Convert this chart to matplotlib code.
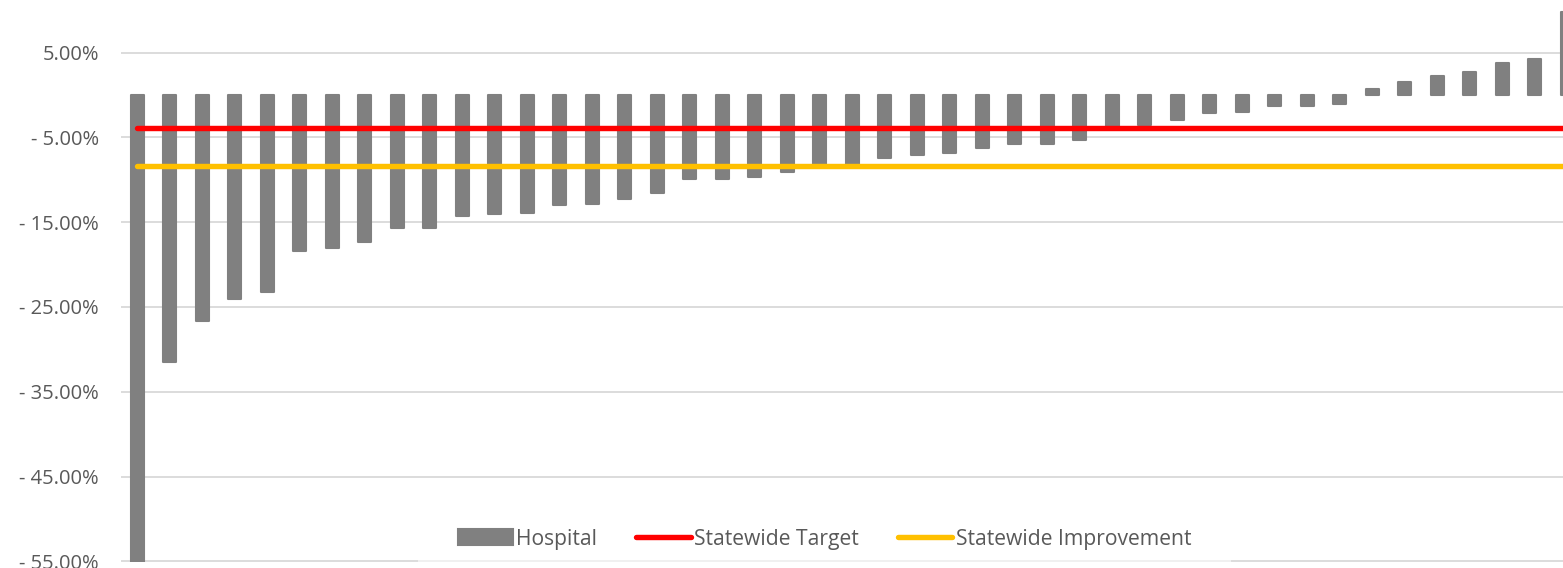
import numpy as np
import matplotlib
matplotlib.use("Agg")
import matplotlib.pyplot as plt
from matplotlib.ticker import FuncFormatter

plt.rcParams['font.family'] = ['Open Sans', 'DejaVu Sans']

# Change per hospital, in percent, sorted from largest decrease to largest increase
hospital_change = [
    -56.0, -31.5, -26.7, -24.1, -23.2, -18.4, -18.1, -17.3, -15.7, -15.7,
    -14.3, -14.0, -13.9, -13.0, -12.8, -12.3, -11.6, -9.9, -9.9, -9.7,
    -9.1, -8.1, -8.1, -7.4, -7.1, -6.8, -6.2, -5.8, -5.8, -5.3,
    -3.6, -3.5, -2.9, -2.1, -2.0, -1.3, -1.3, -1.05, 0.7, 1.5,
    2.3, 2.7, 3.8, 4.2, 9.8,
]
statewide_target = -3.9
statewide_improvement = -8.4

y_ticks = [5, -5, -15, -25, -35, -45, -55]

series_labels = ["Hospital", "Statewide Target", "Statewide Improvement"]
bar_color = "#808080"
target_color = "#FF0000"
improvement_color = "#FFC000"
grid_color = "#D9D9D9"
text_color = "#595959"

values = np.array(hospital_change) / 100.0
n = len(values)
x = np.arange(n)

fig = plt.figure(figsize=(15.63, 5.68), dpi=100)
# Plot area runs past the right edge of the canvas
ax = fig.add_axes([121 / 1563, (568 - 561.7) / 568, 1462.5 / 1563, 561.7 / 568])

bars = ax.bar(x, values, width=0.40, color=bar_color, edgecolor=bar_color,
              linewidth=1.5, joinstyle='round', label=series_labels[0], zorder=2)
target_line, = ax.plot(x, np.full(n, statewide_target / 100.0), color=target_color, lw=3.9,
                       solid_capstyle='round', label=series_labels[1], zorder=3)
improve_line, = ax.plot(x, np.full(n, statewide_improvement / 100.0), color=improvement_color,
                        lw=3.9, solid_capstyle='round', label=series_labels[2], zorder=3)

ax.set_xlim(-0.5, n - 0.5)
ax.set_ylim(-0.5505, 0.1121)
ax.set_yticks([t / 100.0 for t in y_ticks])


def pct(v, _pos):
    v = v * 100
    if v < 0:
        return f"- {abs(v):.2f}%"
    return f"{v:.2f}%"


ax.yaxis.set_major_formatter(FuncFormatter(pct))
ax.set_xticks([])
ax.tick_params(axis='y', length=0, pad=16, labelsize=14.5, labelcolor=text_color)
ax.grid(axis='y', color=grid_color, linewidth=1.3, zorder=0)
ax.set_axisbelow(True)
for side in ax.spines.values():
    side.set_visible(False)

leg = ax.legend([bars, target_line, improve_line], series_labels,
                loc='center', bbox_to_anchor=(824.4 / 1563, 1 - 539 / 568),
                bbox_transform=fig.transFigure, ncol=3, frameon=True,
                fontsize=15.2, handlelength=2.6, handleheight=0.8,
                handletextpad=0.15, columnspacing=1.85, borderpad=1.9)
leg.get_frame().set_facecolor('white')
leg.get_frame().set_alpha(0.6)
leg.get_frame().set_edgecolor('none')
leg.get_frame().set_boxstyle('square', pad=0)
for t in leg.get_texts():
    t.set_color(text_color)

fig.savefig("out.png", dpi=100)
